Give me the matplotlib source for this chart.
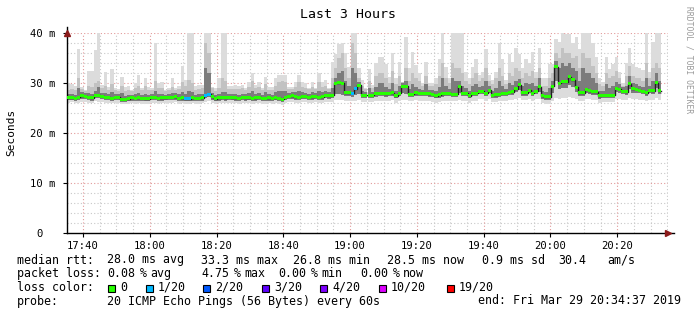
import numpy as np
import matplotlib
matplotlib.use("Agg")
import matplotlib.pyplot as plt
from matplotlib.patches import Rectangle

# ---------------- data (ms) ----------------
# one sample per minute starting 17:35:12
start_min = 17 * 60 + 35.2
rtt_median = [
    27.1, 27.1, 27.0, 27.2, 27.5, 27.4, 27.2, 27.1, 27.6, 27.6,
    27.4, 27.2, 27.2, 27.0, 27.2, 27.2, 26.8, 26.8, 26.9, 27.1,
    27.0, 27.1, 27.0, 26.9, 26.9, 27.2, 27.2, 27.0, 27.1, 27.1,
    27.2, 27.2, 27.3, 27.0, 27.1, 26.9, 26.9, 27.1, 27.0, 27.0,
    27.1, 27.6, 27.8, 27.3, 26.9, 27.1, 27.2, 27.1, 27.2, 27.1,
    27.1, 27.0, 27.2, 27.1, 27.1, 27.0, 27.1, 27.2, 27.0, 27.0,
    27.1, 27.0, 27.1, 27.0, 26.8, 27.2, 27.4, 27.5, 27.3, 27.2,
    27.4, 27.4, 27.2, 27.3, 27.4, 27.2, 27.3, 27.6, 27.5, 27.6,
    30.0, 30.1, 30.0, 28.1, 28.1, 28.0, 28.9, 29.6, 27.6, 27.6,
    27.6, 27.6, 28.0, 28.0, 28.0, 27.9, 28.0, 28.1, 27.5, 28.0,
    29.4, 29.4, 27.8, 27.8, 28.1, 28.0, 28.0, 28.0, 27.9, 27.8,
    27.5, 27.7, 27.9, 28.0, 28.0, 27.8, 27.8, 29.4, 28.0, 28.0,
    27.5, 28.0, 28.0, 28.4, 28.4, 28.0, 28.6, 27.6, 27.7, 27.8,
    28.0, 28.0, 28.2, 28.3, 28.9, 29.7, 28.1, 28.1, 28.6, 28.0,
    28.4, 29.3, 27.5, 27.3, 27.3, 29.4, 33.3, 30.0, 30.3, 30.3,
    31.3, 30.7, 29.2, 28.1, 28.1, 28.8, 28.5, 28.3, 28.3, 27.5,
    27.6, 27.6, 27.6, 27.6, 29.0, 28.8, 28.4, 28.3, 29.9, 28.9,
    28.8, 28.6, 28.4, 28.1, 28.6, 28.5, 30.1, 28.5,
]
rtt_max = [
    30.0, 29.8, 29.5, 36.8, 29.2, 28.7, 32.5, 32.5, 36.5, 40.0,
    29.7, 32.3, 29.3, 32.7, 29.0, 28.8, 31.3, 29.3, 29.4, 28.7,
    30.0, 31.7, 29.0, 31.0, 29.2, 29.0, 38.0, 30.0, 30.2, 28.7,
    29.0, 31.0, 29.0, 29.3, 33.5, 30.7, 40.0, 40.0, 29.3, 29.7,
    29.7, 40.0, 40.0, 29.3, 29.0, 31.0, 40.0, 40.0, 29.5, 29.5,
    29.7, 29.5, 29.7, 29.0, 30.3, 32.0, 29.7, 30.3, 29.0, 31.1,
    29.2, 29.2, 31.0, 31.7, 31.7, 31.7, 29.3, 29.3, 30.3, 31.7,
    30.3, 30.0, 29.0, 30.2, 29.0, 32.0, 30.3, 30.7, 29.0, 34.3,
    35.7, 37.7, 38.0, 36.0, 33.3, 40.0, 40.0, 33.0, 30.7, 29.0,
    32.7, 29.7, 34.0, 35.3, 35.3, 33.7, 31.3, 36.0, 31.0, 34.3,
    30.3, 39.3, 33.0, 36.3, 33.7, 32.0, 30.0, 34.3, 30.0, 30.0,
    31.0, 34.7, 40.0, 33.3, 31.0, 40.0, 40.0, 40.0, 40.0, 32.3,
    31.0, 33.3, 34.7, 31.7, 32.3, 36.7, 31.7, 30.7, 32.3, 38.0,
    34.7, 30.7, 35.7, 34.3, 37.0, 35.7, 33.0, 34.7, 34.0, 36.3,
    32.3, 37.0, 31.0, 31.0, 33.7, 33.7, 38.7, 38.3, 40.0, 39.7,
    39.7, 38.0, 39.3, 36.7, 40.0, 40.0, 40.0, 38.0, 35.3, 31.0,
    30.3, 35.3, 32.7, 33.7, 35.3, 32.3, 30.0, 34.0, 37.0, 33.7,
    33.3, 33.0, 32.7, 40.0, 32.3, 38.3, 40.0, 40.0,
]
rtt_p80 = [
    28.6, 28.8, 28.6, 31.0, 28.8, 28.5, 29.5, 29.3, 30.0, 30.5,
    29.0, 29.5, 28.6, 29.8, 28.6, 28.4, 29.5, 28.5, 28.6, 28.4,
    29.0, 29.5, 28.6, 29.3, 28.6, 28.6, 30.5, 29.0, 29.0, 28.4,
    28.6, 29.3, 28.6, 28.8, 30.2, 29.5, 30.6, 30.0, 28.6, 28.8,
    29.0, 38.0, 36.0, 29.0, 28.5, 29.0, 31.0, 30.5, 28.8, 28.8,
    28.8, 28.8, 29.0, 28.6, 29.3, 30.5, 29.0, 29.3, 28.6, 29.8,
    28.6, 28.6, 29.5, 30.3, 30.5, 30.3, 28.8, 28.8, 29.3, 30.3,
    29.3, 29.0, 28.8, 29.2, 28.8, 30.3, 29.3, 29.5, 28.8, 31.0,
    33.0, 35.0, 36.0, 33.0, 31.0, 38.0, 36.0, 31.0, 29.5, 28.8,
    30.5, 29.0, 31.5, 32.0, 32.0, 31.0, 30.0, 32.5, 29.8, 31.5,
    30.2, 33.0, 30.5, 32.0, 31.0, 30.5, 29.5, 31.5, 29.5, 29.5,
    29.8, 31.5, 34.0, 31.0, 30.0, 34.0, 33.0, 33.0, 32.0, 30.5,
    29.8, 31.0, 32.0, 30.5, 31.0, 33.0, 30.5, 29.8, 31.0, 33.0,
    31.5, 29.8, 32.0, 31.5, 33.0, 32.5, 31.0, 32.0, 31.5, 32.5,
    31.0, 33.0, 29.5, 29.5, 31.0, 32.0, 36.0, 35.0, 37.0, 36.0,
    36.0, 35.0, 35.5, 33.0, 36.0, 35.0, 35.0, 33.5, 32.0, 29.8,
    29.5, 32.0, 31.0, 31.5, 32.5, 31.0, 29.5, 31.5, 33.5, 31.5,
    31.0, 31.0, 30.5, 34.0, 31.0, 33.0, 34.0, 33.0,
]
rtt_p65 = [
    27.8, 27.8, 27.7, 29.0, 28.1, 28.0, 28.0, 27.9, 28.4, 29.3,
    28.1, 28.1, 27.9, 28.2, 27.9, 27.8, 28.0, 27.5, 27.6, 27.7,
    27.8, 28.0, 27.7, 27.8, 27.6, 27.9, 28.5, 27.8, 27.8, 27.7,
    27.9, 28.0, 28.0, 27.8, 28.3, 27.9, 28.5, 28.2, 27.7, 27.8,
    27.9, 33.0, 32.0, 28.0, 27.6, 27.8, 28.3, 28.2, 27.9, 27.8,
    27.8, 27.7, 27.9, 27.8, 28.0, 28.5, 27.9, 28.1, 27.7, 28.2,
    27.8, 27.7, 28.2, 28.5, 28.5, 28.5, 28.1, 28.2, 28.1, 28.4,
    28.2, 28.1, 27.9, 28.1, 28.1, 28.5, 28.1, 28.4, 28.2, 29.0,
    31.0, 32.0, 32.5, 30.5, 29.5, 33.0, 32.0, 30.3, 28.4, 28.3,
    29.0, 28.3, 29.3, 30.0, 30.0, 29.3, 28.8, 30.0, 28.5, 29.5,
    30.0, 30.5, 28.8, 29.8, 29.3, 28.9, 28.7, 29.8, 28.6, 28.6,
    28.5, 29.3, 31.0, 29.3, 28.8, 31.0, 30.5, 30.5, 29.5, 29.0,
    28.5, 29.3, 29.8, 29.3, 29.5, 30.5, 29.5, 28.5, 29.0, 30.5,
    29.5, 28.8, 30.0, 29.7, 30.5, 30.8, 29.5, 30.0, 29.8, 30.0,
    29.5, 31.0, 28.5, 28.3, 29.0, 30.5, 34.5, 33.0, 34.0, 33.5,
    34.0, 33.0, 32.5, 30.5, 33.0, 32.0, 32.0, 31.0, 30.0, 28.5,
    28.5, 29.8, 29.0, 29.5, 30.3, 29.8, 29.2, 29.5, 31.5, 30.0,
    29.8, 29.5, 29.3, 31.0, 29.5, 30.5, 32.0, 30.5,
]
rtt_p25 = [
    26.6, 26.6, 26.5, 26.6, 26.9, 26.8, 26.6, 26.5, 27.0, 27.0,
    26.8, 26.6, 26.6, 26.5, 26.6, 26.6, 26.3, 26.3, 26.4, 26.5,
    26.5, 26.5, 26.4, 26.4, 26.4, 26.6, 26.6, 26.5, 26.5, 26.6,
    26.6, 26.6, 26.7, 26.5, 26.5, 26.4, 26.4, 26.5, 26.5, 26.4,
    26.5, 27.0, 27.2, 26.7, 26.4, 26.5, 26.6, 26.5, 26.6, 26.6,
    26.5, 26.5, 26.6, 26.5, 26.6, 26.5, 26.5, 26.6, 26.5, 26.4,
    26.5, 26.5, 26.6, 26.5, 26.3, 26.6, 26.8, 26.9, 26.7, 26.6,
    26.8, 26.8, 26.6, 26.7, 26.8, 26.6, 26.7, 27.0, 26.9, 27.0,
    27.8, 27.8, 27.6, 27.4, 27.4, 27.3, 27.6, 27.8, 27.0, 27.0,
    27.0, 27.0, 27.3, 27.4, 27.4, 27.3, 27.4, 27.5, 27.0, 27.4,
    28.0, 27.8, 27.2, 27.2, 27.5, 27.4, 27.4, 27.4, 27.3, 27.2,
    27.0, 27.1, 27.3, 27.4, 27.4, 27.2, 27.2, 28.0, 27.4, 27.4,
    27.0, 27.4, 27.4, 27.8, 27.8, 27.4, 28.0, 27.0, 27.1, 27.2,
    27.4, 27.4, 27.6, 27.7, 28.2, 28.6, 27.5, 27.5, 28.0, 27.4,
    27.8, 28.3, 26.9, 26.7, 26.7, 28.0, 30.5, 28.8, 29.0, 29.0,
    29.6, 29.3, 28.3, 27.5, 27.5, 28.0, 27.9, 27.7, 27.7, 26.9,
    27.0, 27.0, 27.0, 27.0, 28.2, 28.1, 27.8, 27.7, 28.8, 28.1,
    28.1, 28.0, 27.8, 27.5, 28.0, 27.9, 29.0, 27.9,
]
rtt_min = [
    26.1, 26.2, 26.0, 26.1, 26.3, 26.3, 26.1, 26.0, 26.4, 26.3,
    26.2, 26.1, 26.0, 26.0, 26.1, 26.1, 25.8, 25.8, 25.9, 26.0,
    25.9, 26.0, 25.9, 25.8, 25.9, 26.1, 26.0, 25.9, 26.0, 26.0,
    26.1, 26.0, 26.2, 25.9, 26.0, 25.8, 25.9, 26.0, 25.9, 25.9,
    26.0, 26.2, 26.4, 26.1, 25.8, 26.0, 26.1, 26.0, 26.1, 26.0,
    26.0, 25.9, 26.0, 26.0, 26.0, 25.9, 26.0, 26.1, 25.9, 25.9,
    26.0, 25.9, 26.0, 25.9, 25.7, 26.0, 26.2, 26.3, 26.1, 26.0,
    26.2, 26.2, 26.0, 26.1, 26.2, 26.0, 26.1, 26.3, 26.3, 26.3,
    26.6, 26.7, 26.6, 26.5, 26.5, 26.4, 26.5, 26.6, 26.3, 26.2,
    26.3, 26.2, 26.5, 26.5, 26.5, 26.4, 26.5, 26.6, 26.1, 26.5,
    26.7, 26.6, 26.4, 26.4, 26.6, 26.5, 26.5, 26.5, 26.4, 26.3,
    26.1, 26.3, 26.5, 26.5, 26.5, 26.4, 26.4, 26.6, 26.5, 26.5,
    26.1, 26.5, 26.5, 26.8, 26.8, 26.5, 26.9, 26.2, 26.3, 26.4,
    26.5, 26.5, 26.6, 26.7, 26.9, 27.0, 26.6, 26.6, 26.8, 26.5,
    26.8, 26.9, 26.1, 25.9, 25.9, 26.5, 27.0, 26.8, 27.0, 27.0,
    27.2, 27.0, 26.9, 26.5, 26.5, 26.8, 26.8, 26.7, 26.7, 26.1,
    26.2, 26.2, 26.2, 26.2, 26.8, 26.8, 26.7, 26.6, 27.0, 26.8,
    26.8, 26.7, 26.6, 26.5, 26.7, 26.7, 27.0, 26.7,
]
# number of lost pings (of 20) per sample; only non-zero entries listed
loss_samples = {35: 1, 36: 1, 41: 1, 42: 1, 85: 1, 86: 1}

loss_labels = ["0", "1/20", "2/20", "3/20", "4/20", "10/20", "19/20"]
loss_colors = ["#26ff00", "#00b8ff", "#0059ff", "#5e00ff", "#7e00ff", "#dd00ff", "#ff0000"]
loss_thresholds = [0, 1, 2, 3, 4, 10, 19]

x_tick_labels = ["17:40", "18:00", "18:20", "18:40", "19:00", "19:20", "19:40", "20:00", "20:20"]
y_tick_labels = ["0  ", "10 m", "20 m", "30 m", "40 m"]

rtt_legend = [(17, "median rtt:"), (107, "28.0 ms avg"), (201, "33.3 ms max"), (293, "26.8 ms min"),
              (387, "28.5 ms now"), (482, "0.9 ms sd"), (558, "30.4"), (607, "am/s")]
loss_legend = [(107, "0.08", "avg"), (201, "4.75", "max"), (278, "0.00", "min"), (360, "0.00", "now")]

# ---------------- figure ----------------
W, H = 697, 315
fig = plt.figure(figsize=(W / 100, H / 100), dpi=100)
fig.patch.set_facecolor("white")
L, R, T, B = 67, 668, 33, 233
ax = fig.add_axes([L / W, 1 - B / H, (R - L) / W, (B - T) / H])
ax.set_facecolor("white")

n = len(rtt_median)
t = start_min + np.arange(n)
med = np.array(rtt_median)
x0, x1 = start_min, start_min + 180
ax.set_xlim(x0, x1)
ax.set_ylim(0, 40)

MONO = "DejaVu Sans Mono"

# grid
minor_x = np.arange(17 * 60 + 40, x1, 5)
major_x = np.arange(17 * 60 + 40, x1, 20)
for xv in minor_x:
    if xv not in major_x:
        ax.axvline(xv, color="#c8c8c8", lw=0.8, ls=(0, (1, 2)), zorder=0)
for yv in np.arange(2, 40.1, 2):
    if yv % 10:
        ax.axhline(yv, color="#c8c8c8", lw=0.8, ls=(0, (1, 2)), zorder=0)
for xv in major_x:
    ax.axvline(xv, color="#e29a9a", lw=0.8, ls=(0, (1, 2)), zorder=0)
for yv in [10, 20, 30, 40]:
    ax.axhline(yv, color="#e29a9a", lw=0.8, ls=(0, (1, 2)), zorder=0)

# smoke layers
kw = dict(width=1.0, align="edge", linewidth=0, antialiased=False, zorder=2)
ax.bar(t, np.array(rtt_max) - np.array(rtt_min), bottom=rtt_min, color="#dcdcdc", **kw)
ax.bar(t, np.array(rtt_p80) - np.array(rtt_p25), bottom=rtt_p25, color="#c2c2c2", **kw)
ax.bar(t, np.array(rtt_p65) - np.array(rtt_p25), bottom=rtt_p25, color="#7c7c7c", **kw)

# median line
ax.step(np.append(t, t[-1] + 1), np.append(med, med[-1]), where="post",
        color="#202020", lw=1.0, zorder=3)
# loss colored median markers
band = 0.3
cols = []
for i in range(n):
    lost = loss_samples.get(i, 0)
    idx = max(j for j, th in enumerate(loss_thresholds) if lost >= th)
    cols.append(loss_colors[idx])
ax.bar(t, 2 * band, bottom=med - band, color=cols, **dict(kw, zorder=4))

# axes styling
for s in ["top", "right"]:
    ax.spines[s].set_visible(False)
ax.spines["left"].set_color("black")
ax.spines["bottom"].set_color("black")
ax.spines["left"].set_linewidth(1)
ax.spines["bottom"].set_linewidth(1)
ax.set_xticks(major_x)
ax.set_xticklabels(x_tick_labels, fontfamily=MONO, fontsize=7.6)
ax.set_yticks([0, 10, 20, 30, 40])
ax.set_yticklabels(y_tick_labels, fontfamily=MONO, fontsize=7.6)
ax.tick_params(axis="both", length=3, width=0.8, color="black", pad=2, direction="out")
ax.tick_params(axis="y", pad=5)
ax.tick_params(axis="x", pad=3)

# arrows
ax.plot([1.0], [0], marker=">", color="#8b1a1a", ms=5, transform=ax.transAxes, clip_on=False, zorder=5)
ax.plot([0], [1.0], marker="^", color="#8b1a1a", ms=5, transform=ax.transAxes, clip_on=False, zorder=5)
ax.plot([0, 0], [1.0, 1.03], color="black", lw=1, transform=ax.transAxes, clip_on=False)
ax.plot([1.0, 1.01], [0, 0], color="black", lw=1, transform=ax.transAxes, clip_on=False)

def ftext(x, y, s, **k):
    fig.text(x / W, 1 - y / H, s, **k)

ftext(348, 14, "Last 3 Hours", ha="center", va="center", fontfamily=MONO, fontsize=9.5)
ftext(11, 132, "Seconds", ha="center", va="center", rotation=90, fontfamily=MONO, fontsize=8)
ftext(689, 60, "RRDTOOL / TOBI OETIKER", ha="center", va="center", rotation=270,
      fontfamily=MONO, fontsize=5.8, color="#9a9a9a")

FS = 8.4
lt = dict(ha="left", va="center", fontfamily=MONO, fontsize=FS)
for xx, s in rtt_legend:
    ftext(xx, 260, s, **lt)

ftext(17, 273.5, "packet loss:", **lt)
for xx, num, word in loss_legend:
    ftext(xx, 273.5, num, **lt)
    ftext(xx + 33, 273.5, "%", **lt)
    ftext(xx + 43, 273.5, word, **lt)

yy = 287.5
ftext(17, yy, "loss color:", **lt)
sq_x = [108, 146, 203, 262, 320, 379, 447]
for xx, c, lab in zip(sq_x, loss_colors, loss_labels):
    fig.patches.append(Rectangle((xx / W, 1 - (yy + 4) / H), 7 / W, 7 / H, transform=fig.transFigure,
                                 facecolor=c, edgecolor="black", lw=0.8))
    ftext(xx + 12, yy, lab, **lt)

ftext(17, 301, "probe:", **lt)
ftext(107, 301, "20 ICMP Echo Pings (56 Bytes) every 60s", **lt)
ftext(681, 301, "end: Fri Mar 29 20:34:37 2019", **dict(lt, ha="right"))

fig.savefig("out.png", dpi=100, facecolor="white")
